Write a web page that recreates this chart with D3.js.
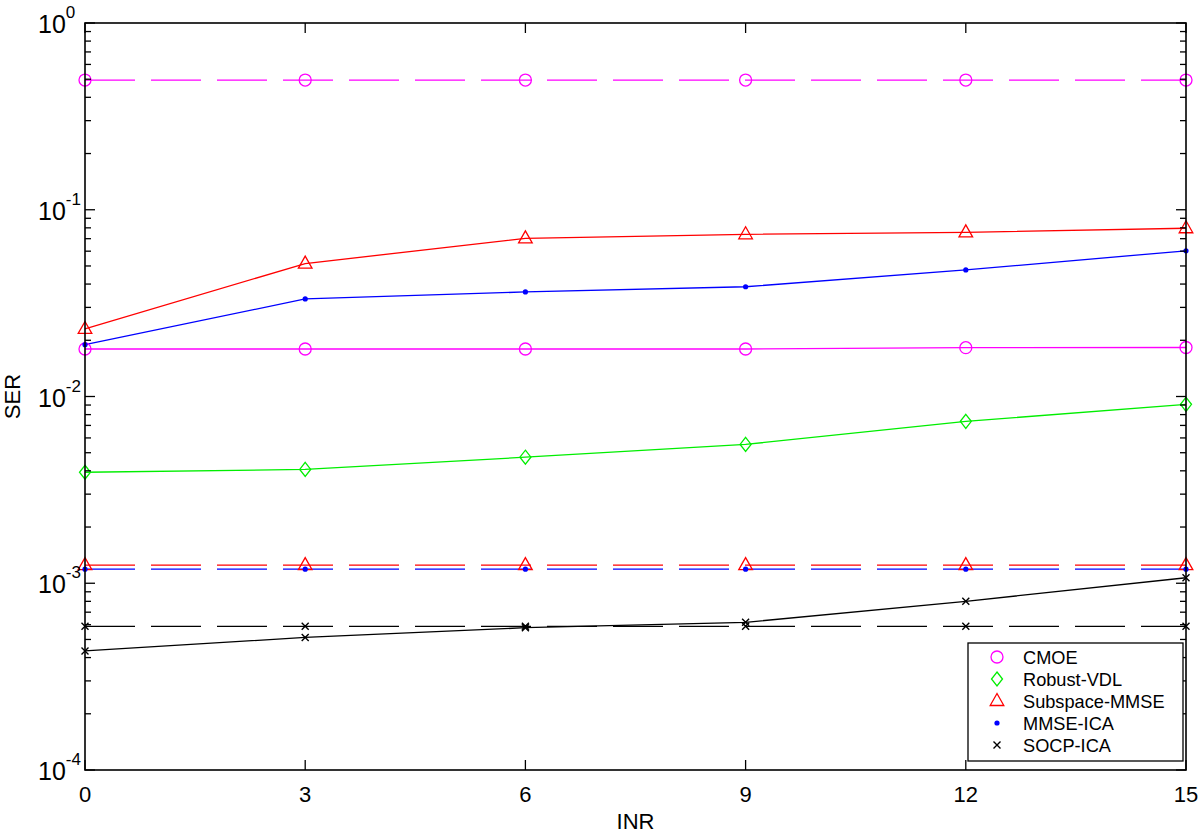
<!DOCTYPE html>
<html>
<head>
<meta charset="utf-8">
<script src="https://cdn.jsdelivr.net/npm/d3@7"></script>
<style>
  body { margin: 0; background: #fff; }
  svg { display: block; font-family: "Liberation Sans", Arial, Helvetica, sans-serif; }
</style>
</head>
<body>
<svg id="chart" width="1200" height="833"></svg>
<script>
// INR values (x) and SER per series
const inr = [0, 3, 6, 9, 12, 15]
const xTicks = [0, 3, 6, 9, 12, 15]
const yDecades = [-4, -3, -2, -1, 0]

const cmoe = [0.01796, 0.01796, 0.01796, 0.01796, 0.01826, 0.0183]
const cmoeRef = [0.495, 0.495, 0.495, 0.495, 0.495, 0.495]
const robustVdl = [0.00393, 0.00407, 0.00473, 0.00554, 0.00736, 0.00908]
const subspaceMmse = [0.0230, 0.0515, 0.0703, 0.0739, 0.0757, 0.0796]
const subspaceRef = [0.00125, 0.00125, 0.00125, 0.00125, 0.00125, 0.00125]
const mmseIca = [0.01895, 0.0333, 0.0363, 0.0387, 0.0476, 0.0603]
const mmseRef = [0.00119, 0.00119, 0.00119, 0.00119, 0.00119, 0.00119]
const socpIca = [0.000434, 0.000513, 0.000578, 0.000618, 0.00080, 0.00107]
const socpRef = [0.000588, 0.000588, 0.000588, 0.000588, 0.000588, 0.000588]

const series = [
  { name: 'CMOE', values: cmoe, color: '#ff00ff', marker: 'circle' },
  { name: 'Robust-VDL', values: robustVdl, color: '#00ee00', marker: 'diamond' },
  { name: 'Subspace-MMSE', values: subspaceMmse, color: '#ff0000', marker: 'triangle' },
  { name: 'MMSE-ICA', values: mmseIca, color: '#0000ff', marker: 'dot' },
  { name: 'SOCP-ICA', values: socpIca, color: '#000000', marker: 'cross' }
]
const refSeries = [
  { values: cmoeRef, color: '#ff00ff', marker: 'circle' },
  { values: subspaceRef, color: '#ff0000', marker: 'triangle' },
  { values: mmseRef, color: '#0000ff', marker: 'dot' },
  { values: socpRef, color: '#000000', marker: 'cross' }
]

const svg = d3.select('#chart')
const plotLeft = 85, plotRight = 1186, plotTop = 23, plotBottom = 770

const x = d3.scaleLinear().domain([0, 15]).range([plotLeft, plotRight])
const y = d3.scaleLog().domain([1e-4, 1]).range([plotBottom, plotTop])

function drawMarker(g, type, color) {
  if (type === 'circle') {
    g.append('circle').attr('r', 6).attr('fill', 'none').attr('stroke', color).attr('stroke-width', 1.3)
  } else if (type === 'diamond') {
    g.append('path').attr('d', 'M0,-7L5.5,0L0,7L-5.5,0Z').attr('fill', 'none').attr('stroke', color).attr('stroke-width', 1.3)
  } else if (type === 'triangle') {
    g.append('path').attr('d', 'M0,-7.5L6.8,4.5L-6.8,4.5Z').attr('fill', 'none').attr('stroke', color).attr('stroke-width', 1.3)
  } else if (type === 'dot') {
    g.append('circle').attr('r', 2.6).attr('fill', color)
  } else if (type === 'cross') {
    g.append('path').attr('d', 'M-3.5,-3.5L3.5,3.5M-3.5,3.5L3.5,-3.5').attr('stroke', color).attr('stroke-width', 1.4)
  }
}

const line = d3.line().x((d, i) => x(inr[i])).y(d => y(d))

const plot = svg.append('g')

for (const s of refSeries) {
  plot.append('path')
    .attr('d', line(s.values))
    .attr('fill', 'none')
    .attr('stroke', s.color)
    .attr('stroke-width', 1.3)
    .attr('stroke-dasharray', '50,16')
}
for (const s of series) {
  plot.append('path')
    .attr('d', line(s.values))
    .attr('fill', 'none')
    .attr('stroke', s.color)
    .attr('stroke-width', 1.3)
}
for (const s of [...refSeries, ...series]) {
  s.values.forEach((v, i) => {
    const g = plot.append('g').attr('transform', `translate(${x(inr[i])},${y(v)})`)
    drawMarker(g, s.marker, s.color)
  })
}

// axes: ticks inward on all four sides
const minorTicks = y.ticks().filter(v => Math.abs(Math.log10(v) - Math.round(Math.log10(v))) > 1e-6)
const majorTicks = yDecades.map(e => Math.pow(10, e))
const axes = svg.append('g').attr('stroke', '#000').attr('stroke-width', 1.3)

for (const v of majorTicks) {
  axes.append('line').attr('x1', plotLeft).attr('x2', plotLeft + 10).attr('y1', y(v)).attr('y2', y(v))
  axes.append('line').attr('x1', plotRight).attr('x2', plotRight - 10).attr('y1', y(v)).attr('y2', y(v))
}
for (const v of minorTicks) {
  axes.append('line').attr('x1', plotLeft).attr('x2', plotLeft + 6).attr('y1', y(v)).attr('y2', y(v))
  axes.append('line').attr('x1', plotRight).attr('x2', plotRight - 6).attr('y1', y(v)).attr('y2', y(v))
}
for (const t of xTicks) {
  axes.append('line').attr('x1', x(t)).attr('x2', x(t)).attr('y1', plotBottom).attr('y2', plotBottom - 10)
  axes.append('line').attr('x1', x(t)).attr('x2', x(t)).attr('y1', plotTop).attr('y2', plotTop + 10)
}

svg.append('rect')
  .attr('x', plotLeft).attr('y', plotTop)
  .attr('width', plotRight - plotLeft).attr('height', plotBottom - plotTop)
  .attr('fill', 'none').attr('stroke', '#000').attr('stroke-width', 1.6)

// tick labels
svg.append('g').selectAll('text').data(xTicks).join('text')
  .attr('x', d => x(d)).attr('y', 802)
  .attr('text-anchor', 'middle')
  .attr('font-size', 22)
  .text(d => d)

yDecades.forEach(e => {
  const t = svg.append('text')
    .attr('x', 38).attr('y', y(Math.pow(10, e)) + 10)
    .attr('font-size', 25)
  t.append('tspan').text('10')
  t.append('tspan').attr('dy', -15).attr('font-size', 17).text(e)
})

svg.append('text')
  .attr('x', (plotLeft + plotRight) / 2).attr('y', 829)
  .attr('text-anchor', 'middle').attr('font-size', 22)
  .text('INR')

svg.append('text')
  .attr('transform', `translate(20,${(plotTop + plotBottom) / 2}) rotate(-90)`)
  .attr('text-anchor', 'middle').attr('font-size', 22)
  .text('SER')

// legend
const legend = svg.append('g').attr('transform', 'translate(968,643)')
legend.append('rect')
  .attr('width', 215).attr('height', 118)
  .attr('fill', '#fff').attr('stroke', '#000').attr('stroke-width', 1.3)
series.forEach((s, i) => {
  const row = legend.append('g').attr('transform', `translate(0,${14 + i * 22})`)
  drawMarker(row.append('g').attr('transform', 'translate(29,0)'), s.marker, s.color)
  row.append('text')
    .attr('x', 55).attr('y', 6.5)
    .attr('font-size', 18.2)
    .text(s.name)
})
</script>
</body>
</html>
